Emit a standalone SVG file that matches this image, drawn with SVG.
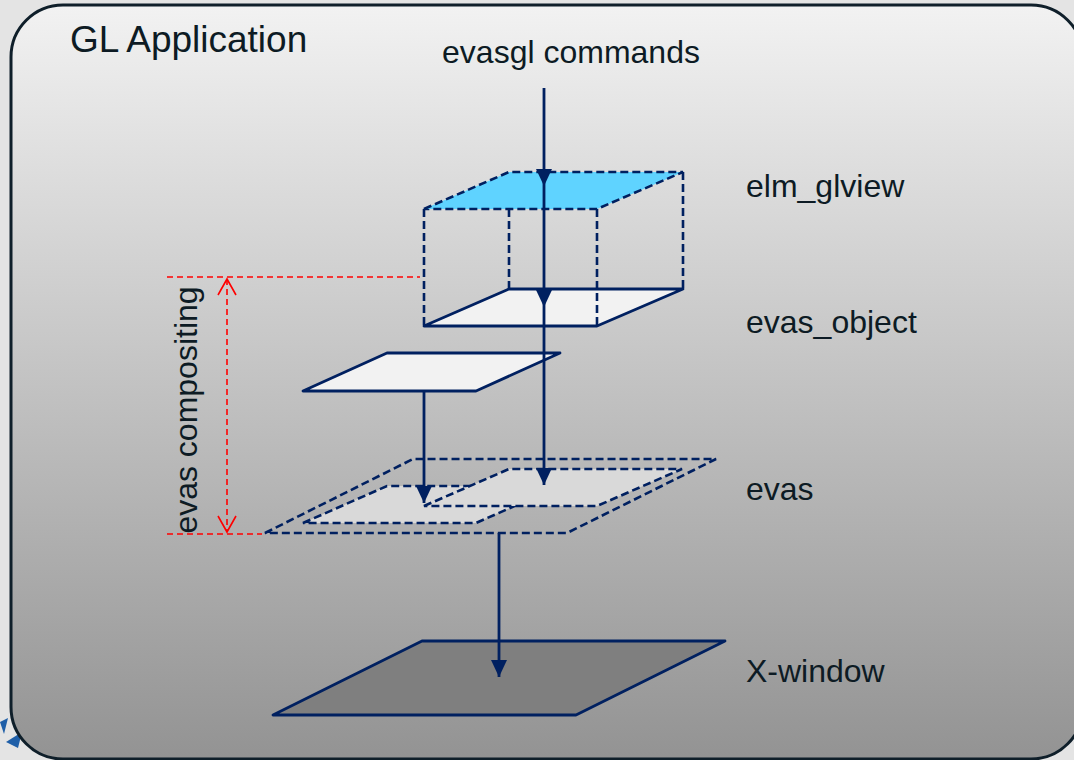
<svg xmlns="http://www.w3.org/2000/svg" width="1074" height="760" viewBox="0 0 1074 760">
  <defs>
    <linearGradient id="panelFill" x1="0" y1="0" x2="0" y2="1">
      <stop offset="0" stop-color="#f2f2f2"/>
      <stop offset="1" stop-color="#939393"/>
    </linearGradient>
    <marker id="headFilled" viewBox="0 0 18 18" refX="17" refY="9" markerWidth="18" markerHeight="18" markerUnits="userSpaceOnUse" orient="auto">
      <path d="M0,1 L17,9 L0,17 Z" fill="#002060"/>
    </marker>
    <marker id="headOpen" viewBox="0 0 20 20" refX="18" refY="10" markerWidth="20" markerHeight="20" markerUnits="userSpaceOnUse" orient="auto-start-reverse">
      <path d="M2,1 L18,10 L2,19" fill="none" stroke="#ff0000" stroke-width="1.6"/>
    </marker>
    <style>
      .label { font-family: "Liberation Sans", Arial, sans-serif; font-size: 32px; fill: #0d1b24; }
      .title { font-family: "Liberation Sans", Arial, sans-serif; font-size: 37px; fill: #0d1b24; }
      .solid { stroke: #002060; stroke-width: 2.8; stroke-linejoin: round; }
      .dash { stroke: #002060; stroke-width: 2.6; stroke-dasharray: 8 4; fill: none; }
      .flow { stroke: #002060; stroke-width: 2.8; fill: none; }
      .guide { stroke: #ff0000; stroke-width: 1.6; stroke-dasharray: 6 4; fill: none; }
      .cyan { fill: #5fd3ff; }
      .paper { fill: #f2f2f2; }
      .canvas { fill: #d9d9d9; }
      .screen { fill: #7f7f7f; }
    </style>
  </defs>

  <!-- page background -->
  <rect x="0" y="0" width="1074" height="760" fill="#e4e4e4"/>
  <polygon points="0,722 8,718 4,734" fill="#1f5fa8"/>
  <polygon points="6,742 22,732 18,748" fill="#1f5fa8"/>

  <!-- application frame -->
  <g id="gl-application">
    <rect x="11" y="5" width="1072" height="754" rx="52" ry="52" fill="url(#panelFill)" stroke="#0f1f2a" stroke-width="3"/>
    <text class="title" x="70" y="52">GL Application</text>
  </g>

  <!-- X-window surface -->
  <g id="x-window">
    <polygon class="solid screen" points="273,715 422,641 725,641 576,715"/>
    <text class="label" x="746" y="682">X-window</text>
  </g>

  <!-- evas canvas with its two composited objects -->
  <g id="evas">
    <polygon class="dash" points="265,533 413,459 716,459 567,533"/>
    <polygon class="dash canvas" points="303,523 387,486 560,486 476,523"/>
    <polygon class="dash canvas" points="424,506 509,469 682,469 597,506"/>
    <text class="label" x="746" y="500">evas</text>
  </g>

  <!-- second evas object -->
  <g id="evas-object-2">
    <polygon class="solid paper" points="303,391 387,353 560,353 476,391"/>
  </g>

  <!-- evas_object plane -->
  <g id="evas-object">
    <polygon class="solid paper" points="424,326 509,289 683,289 597,326"/>
    <text class="label" x="746" y="333">evas_object</text>
  </g>

  <!-- elm_glview volume -->
  <g id="elm-glview">
    <line class="dash" x1="424" y1="209" x2="424" y2="326"/>
    <line class="dash" x1="509" y1="209" x2="509" y2="289"/>
    <line class="dash" x1="597" y1="209" x2="597" y2="326"/>
    <line class="dash" x1="683" y1="172" x2="683" y2="289"/>
    <polygon class="dash cyan" points="424,209 509,172 683,172 597,209"/>
    <text class="label" x="746" y="197">elm_glview</text>
  </g>

  <!-- compositing extent -->
  <g id="evas-compositing">
    <line class="guide" x1="167" y1="277" x2="420" y2="277"/>
    <line class="guide" x1="167" y1="534" x2="262" y2="534"/>
    <line class="guide" x1="227" y1="279" x2="227" y2="532" marker-start="url(#headOpen)" marker-end="url(#headOpen)"/>
    <text class="label" transform="translate(197,410) rotate(-90)" text-anchor="middle" x="0" y="0">evas compositing</text>
  </g>

  <!-- command label -->
  <g id="evasgl-commands">
    <text class="label" x="571" y="63" text-anchor="middle">evasgl commands</text>
  </g>

  <!-- connectors -->
  <g id="connectors">
    <line class="flow" x1="544" y1="88" x2="544" y2="186" marker-end="url(#headFilled)"/>
    <line class="flow" x1="544" y1="186" x2="544" y2="307" marker-end="url(#headFilled)"/>
    <line class="flow" x1="544" y1="307" x2="544" y2="485" marker-end="url(#headFilled)"/>
    <line class="flow" x1="424" y1="391" x2="424" y2="503" marker-end="url(#headFilled)"/>
    <line class="flow" x1="499" y1="533" x2="499" y2="677" marker-end="url(#headFilled)"/>
  </g>
</svg>
